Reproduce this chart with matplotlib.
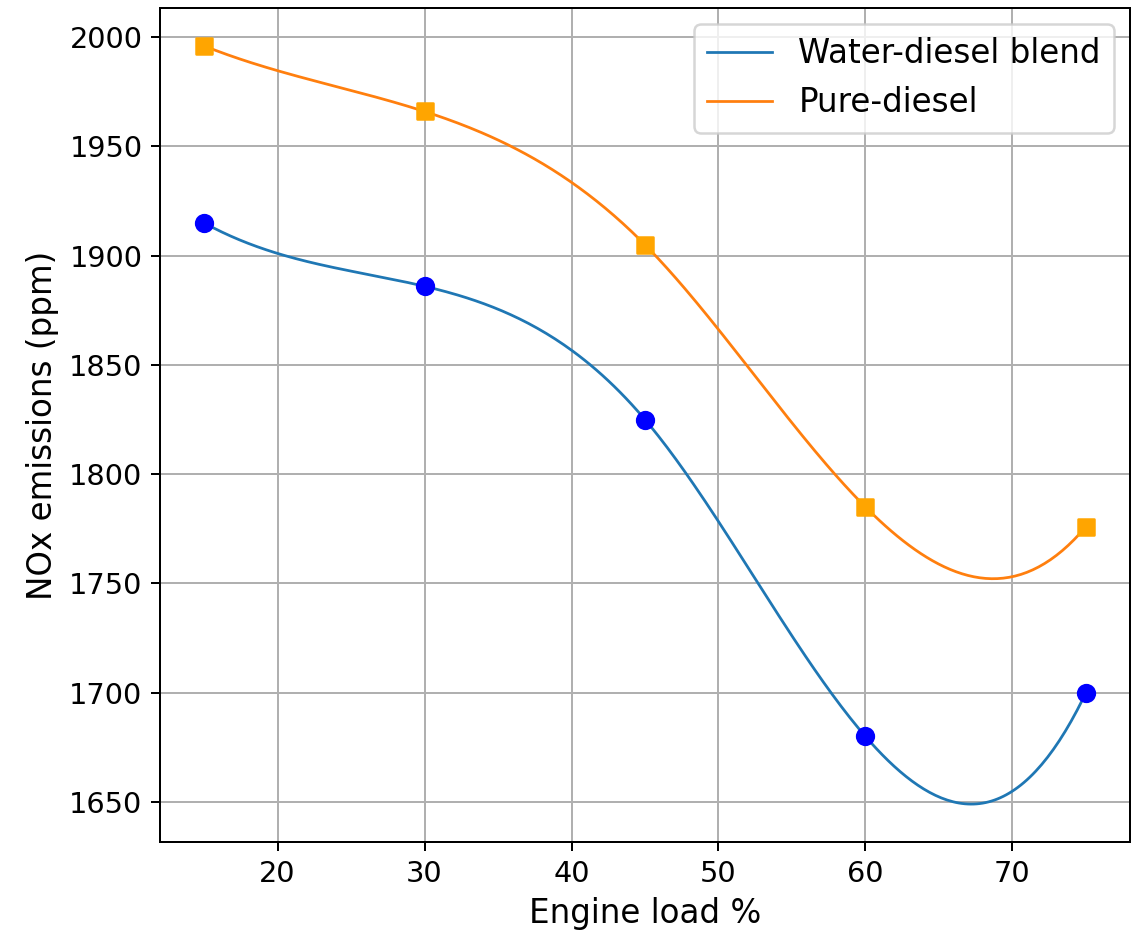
import numpy as np
import matplotlib
matplotlib.use('Agg')
import matplotlib.pyplot as plt

# engine load (%) and NOx readings (ppm)
load = [15, 30, 45, 60, 75]
nox_water = [1915, 1886, 1825, 1680, 1700]
nox_pure = [1996, 1966, 1905, 1785, 1776]


# cubic spline with not-a-knot ends (same as scipy make_interp_spline k=3)
def spline(x, y, xs):
    x = np.asarray(x, float)
    y = np.asarray(y, float)
    n = len(x)
    h = np.diff(x)
    A = np.zeros((n, n))
    b = np.zeros(n)
    for i in range(1, n - 1):
        A[i, i - 1] = h[i - 1]
        A[i, i] = 2 * (h[i - 1] + h[i])
        A[i, i + 1] = h[i]
        b[i] = 6 * ((y[i + 1] - y[i]) / h[i] - (y[i] - y[i - 1]) / h[i - 1])
    A[0, 0] = -1 / h[0]
    A[0, 1] = 1 / h[0] + 1 / h[1]
    A[0, 2] = -1 / h[1]
    A[-1, -3] = -1 / h[-2]
    A[-1, -2] = 1 / h[-2] + 1 / h[-1]
    A[-1, -1] = -1 / h[-1]
    M = np.linalg.solve(A, b)
    idx = np.clip(np.searchsorted(x, xs) - 1, 0, n - 2)
    x0, x1 = x[idx], x[idx + 1]
    hh = x1 - x0
    return (M[idx] * (x1 - xs) ** 3 / (6 * hh) + M[idx + 1] * (xs - x0) ** 3 / (6 * hh)
            + (y[idx] / hh - M[idx] * hh / 6) * (x1 - xs)
            + (y[idx + 1] / hh - M[idx + 1] * hh / 6) * (xs - x0))


xs = np.linspace(load[0], load[-1], 300)

fig = plt.figure(figsize=(1131 / 180, 930 / 180), dpi=180)
ax = fig.add_axes([160 / 1131, 1 - 842 / 930, 970 / 1131, 834 / 930])

ax.plot(xs, spline(load, nox_water, xs), lw=1.1, label='Water-diesel blend')
ax.plot(xs, spline(load, nox_pure, xs), lw=1.1, label='Pure-diesel')
ax.scatter(load, nox_water, color='blue', s=45, zorder=3)
ax.scatter(load, nox_pure, color='orange', marker='s', s=45, zorder=3)

ax.set_xlabel('Engine load %', fontsize=13)
ax.set_ylabel('NOx emissions (ppm)', fontsize=13)
ax.tick_params(labelsize=11.5)
ax.grid(True)
ax.legend(loc='upper right', fontsize=13)

fig.savefig('out.png', dpi=180)
